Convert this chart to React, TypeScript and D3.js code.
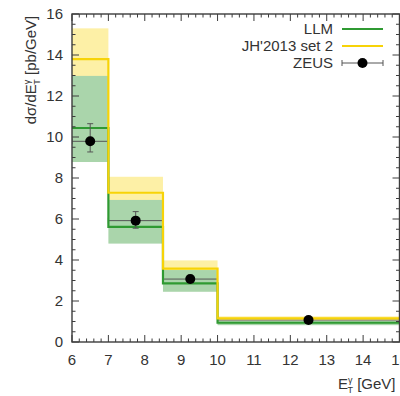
import React from "react";
import * as d3 from "d3";

// Bin edges in photon transverse energy [GeV]
const binEdges = [6, 7, 8.5, 10, 15];

// LLM prediction with its uncertainty band [pb/GeV]
const llm = [10.44, 5.62, 2.86, 0.94];
const llmLow = [8.78, 4.8, 2.45, 0.82];
const llmHigh = [12.98, 6.93, 3.51, 1.03];

// JH'2013 set 2 prediction with its uncertainty band [pb/GeV]
const jh = [13.8, 7.28, 3.58, 1.15];
const jhLow = [12.3, 6.5, 3.1, 1.05];
const jhHigh = [15.3, 8.06, 3.98, 1.25];

// ZEUS measurement
const zeusX = [6.5, 7.75, 9.25, 12.5];
const zeus = [9.79, 5.92, 3.07, 1.07];
const zeusErrUp = [0.86, 0.44, 0.18, 0.08];
const zeusErrDown = [0.52, 0.37, 0.18, 0.08];

const xTicks = [6, 7, 8, 9, 10, 11, 12, 13, 14, 15];
const yTicks = [0, 2, 4, 6, 8, 10, 12, 14, 16];

const W = 400;
const H = 396;
const left = 72;
const right = 399.5;
const top = 14;
const bottom = 342;

const GREEN = "#2f9a32";
const GREEN_BAND = "#aad5ab";
const YELLOW = "#f7d308";
const YELLOW_BAND = "#fdf0a6";
const AXIS = "#3c3c3c";
const TEXT = "#333333";
const FONT = "'Liberation Sans', Arial, sans-serif";

export default function App() {
  const x = d3.scaleLinear().domain([6, 15]).range([left, right]);
  const y = d3.scaleLinear().domain([0, 16]).range([bottom, top]);

  const step = d3
    .line<[number, number]>()
    .x((d) => x(d[0]))
    .y((d) => y(d[1]))
    .curve(d3.curveStepAfter);

  const stepPoints = (vals: number[]): [number, number][] => [
    ...vals.map((v, i) => [binEdges[i], v] as [number, number]),
    [binEdges[binEdges.length - 1], vals[vals.length - 1]],
  ];

  const minorX = d3.range(6, 15.001, 0.2).filter((v) => Math.abs(v - Math.round(v)) > 1e-6);
  const minorY = d3.range(0, 16.001, 0.5).filter((v) => Math.abs(v / 2 - Math.round(v / 2)) > 1e-6);

  const majorLen = 7;
  const minorLen = 3.5;

  return (
    <svg
      width={W}
      height={H}
      style={{ position: "absolute", left: 0, top: 0, background: "#fff" }}
      fontFamily={FONT}
    >
      <defs>
        <clipPath id="plot-area">
          <rect x={left} y={top} width={right - left} height={bottom - top} />
        </clipPath>
      </defs>

      <g clipPath="url(#plot-area)">
        {/* uncertainty bands */}
        {jh.map((_, i) => (
          <rect
            key={"jhb" + i}
            x={x(binEdges[i])}
            width={x(binEdges[i + 1]) - x(binEdges[i])}
            y={y(jhHigh[i])}
            height={y(jhLow[i]) - y(jhHigh[i])}
            fill={YELLOW_BAND}
          />
        ))}
        {llm.map((_, i) => (
          <rect
            key={"llmb" + i}
            x={x(binEdges[i])}
            width={x(binEdges[i + 1]) - x(binEdges[i])}
            y={y(llmHigh[i])}
            height={y(llmLow[i]) - y(llmHigh[i])}
            fill={GREEN_BAND}
          />
        ))}

        {/* ZEUS horizontal bin-width bars */}
        {zeus.map((v, i) => (
          <g key={"zh" + i} stroke="#555" strokeWidth={1}>
            <line x1={x(binEdges[i])} x2={x(binEdges[i + 1])} y1={y(v)} y2={y(v)} />
            <line x1={x(binEdges[i])} x2={x(binEdges[i])} y1={y(v) - 3} y2={y(v) + 3} />
            <line x1={x(binEdges[i + 1])} x2={x(binEdges[i + 1])} y1={y(v) - 3} y2={y(v) + 3} />
          </g>
        ))}

        {/* step histograms */}
        <path d={step(stepPoints(llm)) ?? ""} fill="none" stroke={GREEN} strokeWidth={2.2} />
        <path d={step(stepPoints(jh)) ?? ""} fill="none" stroke={YELLOW} strokeWidth={2.2} />

        {/* ZEUS points with vertical error bars */}
        {zeus.map((v, i) => (
          <g key={"zp" + i}>
            <g stroke="#555" strokeWidth={1}>
              <line x1={x(zeusX[i])} x2={x(zeusX[i])} y1={y(v + zeusErrUp[i])} y2={y(v - zeusErrDown[i])} />
              <line x1={x(zeusX[i]) - 3} x2={x(zeusX[i]) + 3} y1={y(v + zeusErrUp[i])} y2={y(v + zeusErrUp[i])} />
              <line x1={x(zeusX[i]) - 3} x2={x(zeusX[i]) + 3} y1={y(v - zeusErrDown[i])} y2={y(v - zeusErrDown[i])} />
            </g>
            <circle cx={x(zeusX[i])} cy={y(v)} r={5} fill="#000" />
          </g>
        ))}
      </g>

      {/* ticks on all four sides, pointing inward */}
      <g stroke={AXIS} strokeWidth={1}>
        {xTicks.map((t) => (
          <g key={"xt" + t}>
            <line x1={x(t)} x2={x(t)} y1={bottom} y2={bottom - majorLen} />
            <line x1={x(t)} x2={x(t)} y1={top} y2={top + majorLen} />
          </g>
        ))}
        {minorX.map((t) => (
          <g key={"xm" + t}>
            <line x1={x(t)} x2={x(t)} y1={bottom} y2={bottom - minorLen} />
            <line x1={x(t)} x2={x(t)} y1={top} y2={top + minorLen} />
          </g>
        ))}
        {yTicks.map((t) => (
          <g key={"yt" + t}>
            <line x1={left} x2={left + majorLen} y1={y(t)} y2={y(t)} />
            <line x1={right} x2={right - majorLen} y1={y(t)} y2={y(t)} />
          </g>
        ))}
        {minorY.map((t) => (
          <g key={"ym" + t}>
            <line x1={left} x2={left + minorLen} y1={y(t)} y2={y(t)} />
            <line x1={right} x2={right - minorLen} y1={y(t)} y2={y(t)} />
          </g>
        ))}
      </g>

      {/* frame */}
      <rect
        x={left}
        y={top}
        width={right - left}
        height={bottom - top}
        fill="none"
        stroke={AXIS}
        strokeWidth={1.4}
      />

      {/* tick labels */}
      <g fill={TEXT} fontSize={15}>
        {xTicks.map((t) => (
          <text key={"xl" + t} x={x(t)} y={bottom + 23} textAnchor="middle">
            {t}
          </text>
        ))}
        {yTicks.map((t) => (
          <text key={"yl" + t} x={left - 9} y={y(t) + 5} textAnchor="end">
            {t}
          </text>
        ))}
      </g>

      {/* axis titles */}
      <text
        transform={`translate(36, 70) rotate(-90)`}
        textAnchor="middle"
        fill={TEXT}
        fontSize={15}
      >
        dσ/dE
        <tspan fontSize={9} dy={-6}>γ</tspan>
        <tspan fontSize={9} dx={-5} dy={10}>T</tspan>
        <tspan dy={-4}>{"  [pb/GeV]"}</tspan>
      </text>
      <text x={338} y={389} fill={TEXT} fontSize={15}>
        E
        <tspan fontSize={9} dy={-6}>γ</tspan>
        <tspan fontSize={9} dx={-5} dy={10}>T</tspan>
        <tspan dy={-4}>{"  [GeV]"}</tspan>
      </text>

      {/* legend */}
      <g fill={TEXT} fontSize={15} textAnchor="end">
        <text x={333} y={34}>LLM</text>
        <text x={333} y={51}>JH'2013 set 2</text>
        <text x={333} y={68}>ZEUS</text>
      </g>
      <line x1={342} x2={383} y1={29} y2={29} stroke={GREEN} strokeWidth={2.2} />
      <line x1={342} x2={383} y1={46} y2={46} stroke={YELLOW} strokeWidth={2.2} />
      <g stroke="#555" strokeWidth={1}>
        <line x1={342} x2={383} y1={63} y2={63} />
        <line x1={342} x2={342} y1={60} y2={66} />
        <line x1={383} x2={383} y1={60} y2={66} />
      </g>
      <circle cx={362.5} cy={63} r={5} fill="#000" />
    </svg>
  );
}
